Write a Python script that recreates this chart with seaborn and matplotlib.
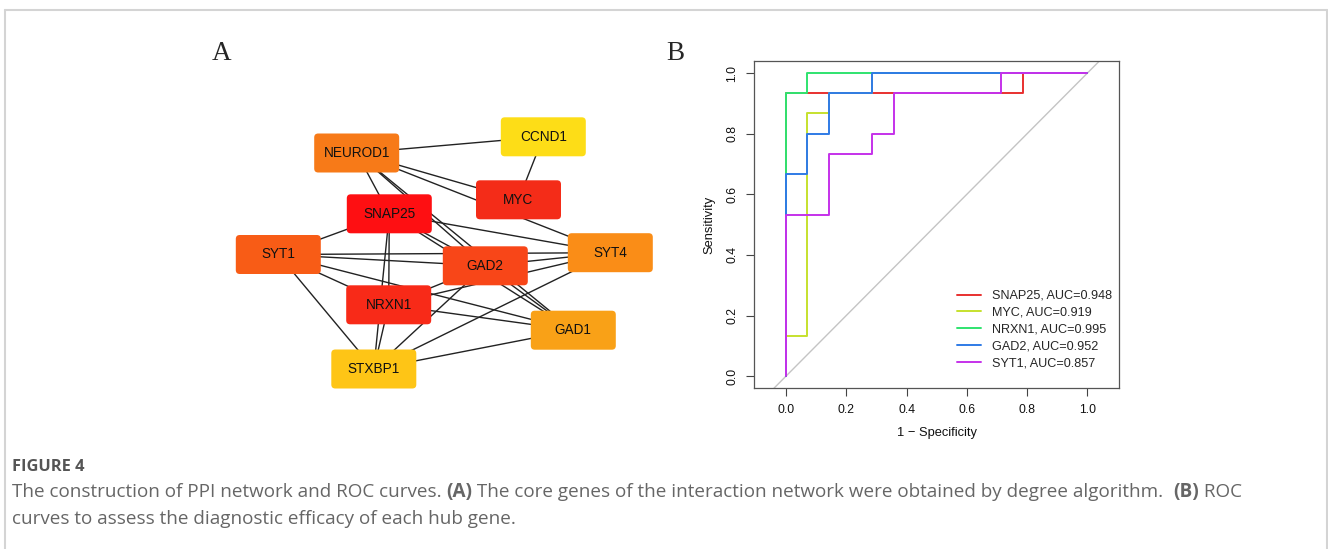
import numpy as np
import pandas as pd
import matplotlib
matplotlib.use("Agg")
import matplotlib.pyplot as plt
from matplotlib.patches import FancyBboxPatch
from matplotlib.lines import Line2D
import seaborn as sns

# ---------------- data ----------------
# Panel A: PPI network (node layout, pixel units)
node_names = ["NEUROD1", "CCND1", "MYC", "SNAP25", "SYT1", "SYT4",
              "GAD2", "NRXN1", "GAD1", "STXBP1"]
node_x = [356.7, 543.3, 518.5, 389.3, 278.3, 610.3, 485.3, 388.7, 573.3, 373.8]
node_y = [153.0, 136.8, 199.8, 213.8, 254.5, 252.7, 265.8, 304.8, 330.2, 369.0]
node_colors = ["#F77A18", "#FDDD17", "#F42C18", "#FE0F12", "#F85C16",
               "#FA8D17", "#F84618", "#F82A18", "#F9A117", "#FEC516"]
edge_src = ["NEUROD1", "CCND1", "NEUROD1", "NEUROD1", "NEUROD1", "NEUROD1",
            "NEUROD1", "SNAP25", "SNAP25", "SNAP25", "SNAP25", "SNAP25",
            "SNAP25", "SYT1", "SYT1", "SYT1", "SYT1", "SYT1", "GAD2",
            "NRXN1", "NRXN1", "NRXN1", "NRXN1", "STXBP1", "STXBP1",
            "STXBP1", "GAD2"]
edge_dst = ["CCND1", "MYC", "MYC", "SYT4", "SNAP25", "GAD2",
            "GAD1", "SYT1", "SYT4", "GAD2", "GAD1", "NRXN1",
            "STXBP1", "SYT4", "GAD2", "NRXN1", "GAD1", "STXBP1", "SYT4",
            "SYT4", "GAD2", "GAD1", "STXBP1", "GAD2", "SYT4",
            "GAD1", "GAD1"]

# Panel B: ROC curves
genes = ["SNAP25", "MYC", "NRXN1", "GAD2", "SYT1"]
auc_values = [0.948, 0.919, 0.995, 0.952, 0.857]
fpr_SNAP25 = [0, 0, 0.786, 0.786, 1]
tpr_SNAP25 = [0, 0.933, 0.933, 1, 1]
fpr_MYC = [0, 0, 0.071, 0.071, 0.143, 0.143, 0.286, 0.286, 1]
tpr_MYC = [0, 0.133, 0.133, 0.867, 0.867, 0.933, 0.933, 1, 1]
fpr_NRXN1 = [0, 0, 0.071, 0.071, 1]
tpr_NRXN1 = [0, 0.933, 0.933, 1, 1]
fpr_GAD2 = [0, 0, 0.071, 0.071, 0.143, 0.143, 0.286, 0.286, 1]
tpr_GAD2 = [0, 0.667, 0.667, 0.8, 0.8, 0.933, 0.933, 1, 1]
fpr_SYT1 = [0, 0, 0.143, 0.143, 0.286, 0.286, 0.357, 0.357, 0.714, 0.714, 1]
tpr_SYT1 = [0, 0.533, 0.533, 0.733, 0.733, 0.8, 0.8, 0.933, 0.933, 1, 1]
roc_colors = ["#E8302F", "#C6E12E", "#2FE36F", "#2F7BE6", "#C531EA"]
x_ticks = [0.0, 0.2, 0.4, 0.6, 0.8, 1.0]
y_ticks = [0.0, 0.2, 0.4, 0.6, 0.8, 1.0]

caption_title = "FIGURE 4"
caption_line1 = ("The construction of PPI network and ROC curves. ",
                 "(A)",
                 " The core genes of the interaction network were obtained by degree algorithm.  ",
                 "(B)",
                 " ROC")
caption_line2 = "curves to assess the diagnostic efficacy of each hub gene."

# ---------------- figure ----------------
W, H = 1328, 549
sns.set_theme(style="white")
plt.rcParams["font.family"] = ["Liberation Sans", "DejaVu Sans"]
fig = plt.figure(figsize=(W / 100, H / 100), dpi=100)
fig.patch.set_facecolor("white")

def fx(px):
    return px / W

def fy(py):
    return 1 - py / H

# outer frame (light gray, open at the bottom)
for xs, ys in [((4.5, 4.5), (H, 9.5)), ((4.5, W - 1.5), (9.5, 9.5)),
               ((W - 1.5, W - 1.5), (9.5, H))]:
    fig.add_artist(Line2D([fx(x) for x in xs], [fy(y) for y in ys],
                          color="#d4d4d4", lw=1.5, transform=fig.transFigure))

# ---------------- panel A: network ----------------
axn = fig.add_axes([0, 0, 700 / W, 1])
axn.set_xlim(0, 700)
axn.set_ylim(H, 0)
axn.axis("off")
pos = {n: (x, y) for n, x, y in zip(node_names, node_x, node_y)}
for s, d in zip(edge_src, edge_dst):
    axn.plot([pos[s][0], pos[d][0]], [pos[s][1], pos[d][1]],
             color="#222222", lw=1.0, zorder=1, solid_capstyle="butt")
bw, bh = 85, 39
for n, c in zip(node_names, node_colors):
    x, y = pos[n]
    axn.add_patch(FancyBboxPatch((x - bw / 2, y - bh / 2), bw, bh,
                                 boxstyle="round,pad=0,rounding_size=4",
                                 fc=c, ec="none", zorder=2))
    axn.text(x, y, n, ha="center", va="center", fontsize=9.8,
             color="#111111", zorder=3, family=["Liberation Sans", "DejaVu Sans"])

fig.text(fx(222), fy(53), "A", ha="center", va="center", fontsize=19.5,
         family=["Liberation Serif", "DejaVu Serif"])
fig.text(fx(675), fy(53), "B", ha="center", va="center", fontsize=19.5,
         family=["Liberation Serif", "DejaVu Serif"])

# ---------------- panel B: ROC ----------------
fprs = [fpr_SNAP25, fpr_MYC, fpr_NRXN1, fpr_GAD2, fpr_SYT1]
tprs = [tpr_SNAP25, tpr_MYC, tpr_NRXN1, tpr_GAD2, tpr_SYT1]
labels = [f"{g}, AUC={a:.3f}" for g, a in zip(genes, auc_values)]
rows = []
for lab, fp, tp in zip(labels, fprs, tprs):
    for i, (a, b) in enumerate(zip(fp, tp)):
        rows.append({"fpr": a, "tpr": b, "curve": lab, "step": i})
roc_df = pd.DataFrame(rows)

box_l, box_r, box_t, box_b = 754.3, 1119.0, 61.0, 388.3
axr = fig.add_axes([fx(box_l), fy(box_b), (box_r - box_l) / W, (box_b - box_t) / H])
axr.axline((0, 0), slope=1, color="#c4c4c4", lw=1.0, zorder=1)
sns.lineplot(data=roc_df, x="fpr", y="tpr", hue="curve", hue_order=labels,
             palette=roc_colors, sort=False, estimator=None, lw=1.4,
             ax=axr, zorder=3)
axr.set_xlim(-0.105, 1.105)
axr.set_ylim(-0.04, 1.04)
axr.set_xticks(x_ticks)
axr.set_yticks(y_ticks)
axr.set_xticklabels([f"{t:.1f}" for t in x_ticks])
axr.set_yticklabels([f"{t:.1f}" for t in y_ticks], rotation=90, va="center")
axr.tick_params(axis="both", direction="out", length=5.5, width=0.8,
                color="#444444", labelsize=8.8, pad=6, labelcolor="#111111")
axr.tick_params(axis="x", bottom=True)
axr.tick_params(axis="y", left=True)
for sp in axr.spines.values():
    sp.set_visible(True)
    sp.set_color("#555555")
    sp.set_linewidth(0.9)
axr.set_xlabel("1 \u2212 Specificity", fontsize=9.3, color="#111111", labelpad=8)
axr.set_ylabel("Sensitivity", fontsize=9.3, color="#111111", labelpad=8)
axr.grid(False)

handles, labs = axr.get_legend_handles_labels()
axr.legend(handles, labs, loc="upper left",
           bbox_to_anchor=(fx(956.7), fy(290)), bbox_transform=fig.transFigure,
           frameon=False, fontsize=9.1, handlelength=1.95, handletextpad=0.85,
           labelspacing=0.38, borderpad=0, borderaxespad=0)

# ---------------- caption ----------------
cap_font = ["Open Sans", "DejaVu Sans"]
fig.text(fx(12), fy(467), caption_title, ha="left", va="center", fontsize=11.8,
         color="#555555", fontweight="bold", family=cap_font)

# line 1 with bold (A)/(B) pieces
renderer = fig.canvas.get_renderer()
x_cur = 12
for i, piece in enumerate(caption_line1):
    bold = piece in ("(A)", "(B)")
    t = fig.text(fx(x_cur), fy(492), piece, ha="left", va="center", fontsize=13.6,
                 color="#666666", fontweight="bold" if bold else "normal",
                 family=cap_font)
    bb = t.get_window_extent(renderer=renderer)
    x_cur += bb.width
fig.text(fx(12), fy(519), caption_line2, ha="left", va="center", fontsize=13.6,
         color="#666666", family=cap_font)

fig.savefig("out.png", dpi=100, facecolor="white")
